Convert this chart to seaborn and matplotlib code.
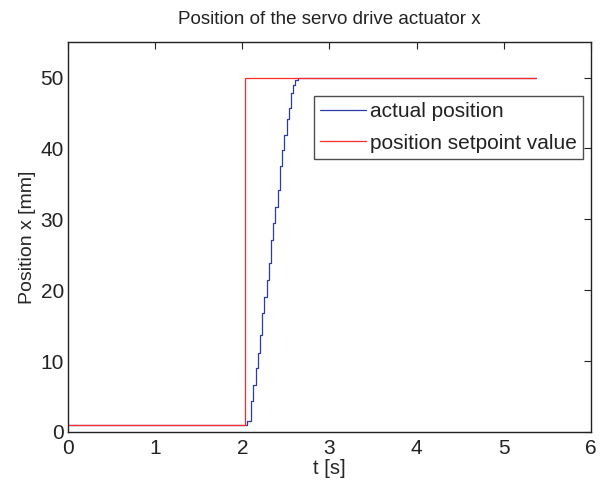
import matplotlib
matplotlib.use("Agg")
import matplotlib.pyplot as plt
import seaborn as sns
import pandas as pd

# data
t_actual = [0.0, 2.05, 2.096, 2.122, 2.153, 2.176, 2.202, 2.225, 2.252, 2.279, 2.305,
            2.333, 2.355, 2.378, 2.408, 2.431, 2.458, 2.481, 2.508, 2.534, 2.557,
            2.580, 2.603, 2.637, 5.37]
pos_actual = [1.0, 1.5, 4.3, 6.6, 9.0, 11.1, 13.7, 16.8, 19.1, 21.5, 23.8,
              27.1, 29.5, 31.8, 34.2, 37.5, 39.8, 41.9, 44.1, 45.7, 47.8,
              49.0, 49.7, 50.0, 50.0]
t_setpoint = [0.0, 2.03, 5.37]
pos_setpoint = [1.0, 50.0, 50.0]

sns.set_style("white")
plt.rcParams["font.family"] = ["Liberation Sans", "DejaVu Sans"]
plt.rcParams["text.color"] = "#222222"

fig = plt.figure(figsize=(6.06, 4.88), dpi=100)
ax = fig.add_axes([0.1122, 0.1148, 0.863, 0.799])

df_a = pd.DataFrame({"t": t_actual, "x": pos_actual})
df_s = pd.DataFrame({"t": t_setpoint, "x": pos_setpoint})

sns.lineplot(data=df_a, x="t", y="x", ax=ax, color="#2a3ca8", lw=0.9,
             drawstyle="steps-post", estimator=None, sort=False,
             label="actual position")
sns.lineplot(data=df_s, x="t", y="x", ax=ax, color="#ff2a2a", lw=0.9,
             drawstyle="steps-post", estimator=None, sort=False,
             label="position setpoint value")

ax.set_xlim(0, 6)
ax.set_ylim(0, 55)
ax.set_xticks(range(0, 7))
ax.set_yticks(range(0, 51, 10))
ax.tick_params(direction="in", length=5, width=0.8, top=True, right=True,
               labelsize=15, colors="#222222", pad=3)
ax.tick_params(axis="x", pad=5)
for s in ax.spines.values():
    s.set_color("#222222")
    s.set_linewidth(1.0)

ax.set_title("Position of the servo drive actuator x", fontsize=13.5, pad=13)
ax.set_xlabel("t [s]", fontsize=14.5, labelpad=1)
ax.set_ylabel("Position x [mm]", fontsize=14, labelpad=3)

leg = ax.legend(loc="upper right", bbox_to_anchor=(0.985, 0.862), fontsize=15,
                frameon=True, fancybox=False, borderpad=0.3, labelspacing=0.6,
                handlelength=2.2, handletextpad=0.2, borderaxespad=0)
leg.get_frame().set_edgecolor("#222222")
leg.get_frame().set_linewidth(1.0)

plt.savefig("out.png", dpi=100)
